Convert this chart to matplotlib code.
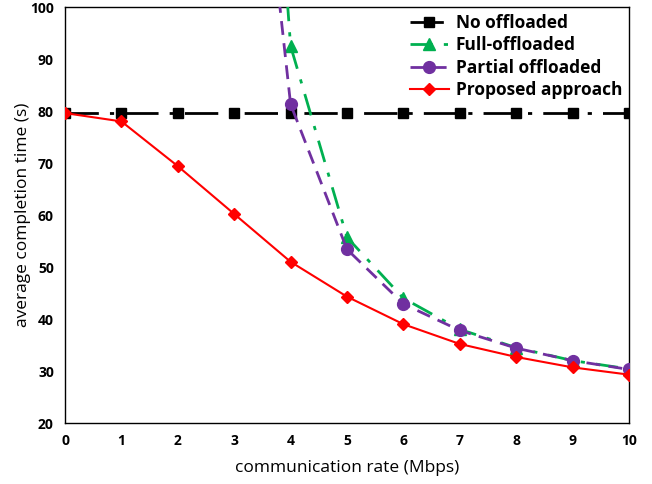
import matplotlib
matplotlib.use("Agg")
import matplotlib.pyplot as plt

x_all = [0, 1, 2, 3, 4, 5, 6, 7, 8, 9, 10]
no_off = [79.6] * 11
x_off = [3, 4, 5, 6, 7, 8, 9, 10]
full_off = [242, 92.5, 55.7, 44.0, 38.0, 34.5, 32.0, 30.4]
partial_off = [180, 81.3, 53.4, 42.9, 37.8, 34.4, 32.0, 30.3]
proposed = [79.6, 78.0, 69.4, 60.2, 51.0, 44.3, 39.0, 35.2, 32.7, 30.7, 29.3]

plt.rcParams['font.family'] = ['Open Sans', 'DejaVu Sans']

fig = plt.figure(figsize=(6.52, 4.84), dpi=100)
ax = fig.add_axes([0.0997, 0.126, 0.865, 0.8595])

ax.plot(x_all, no_off, color='black', lw=2, linestyle=(0, (12, 4, 1.5, 4)),
        marker='s', ms=7.5, label='No offloaded', zorder=3)
ax.plot(x_off, full_off, color='#00B050', lw=2, linestyle=(0, (8, 4, 1.5, 4)),
        marker='^', ms=8, label='Full-offloaded', zorder=4)
ax.plot(x_off, partial_off, color='#7030A0', lw=2, linestyle=(0, (5, 3)),
        marker='o', ms=8.5, label='Partial offloaded', zorder=5)
ax.plot(x_all, proposed, color='#FF0000', lw=1.5, linestyle='-',
        marker='D', ms=6, label='Proposed approach', zorder=6)

ax.set_xlim(0, 10)
ax.set_ylim(20, 100)
ax.set_xticks(range(0, 11))
ax.set_yticks(range(20, 101, 10))
ax.tick_params(length=0, pad=8)
for lab in ax.get_xticklabels() + ax.get_yticklabels():
    lab.set_fontweight('bold')
    lab.set_fontsize(10)
for s in ax.spines.values():
    s.set_linewidth(1)
    s.set_color('black')

ax.set_xlabel('communication rate (Mbps)', fontsize=12.5)
ax.set_ylabel('average completion time (s)', fontsize=12.5)
ax.xaxis.set_label_coords(0.5, -0.09)
ax.yaxis.set_label_coords(-0.06, 0.5)

leg = ax.legend(loc='upper right', frameon=False, fontsize=12.5, handlelength=2.2,
                borderaxespad=0.0, labelspacing=0.25, handletextpad=0.4,
                bbox_to_anchor=(1.0, 1.0))
for t in leg.get_texts():
    t.set_fontweight('bold')

fig.savefig('out.png', dpi=100)
